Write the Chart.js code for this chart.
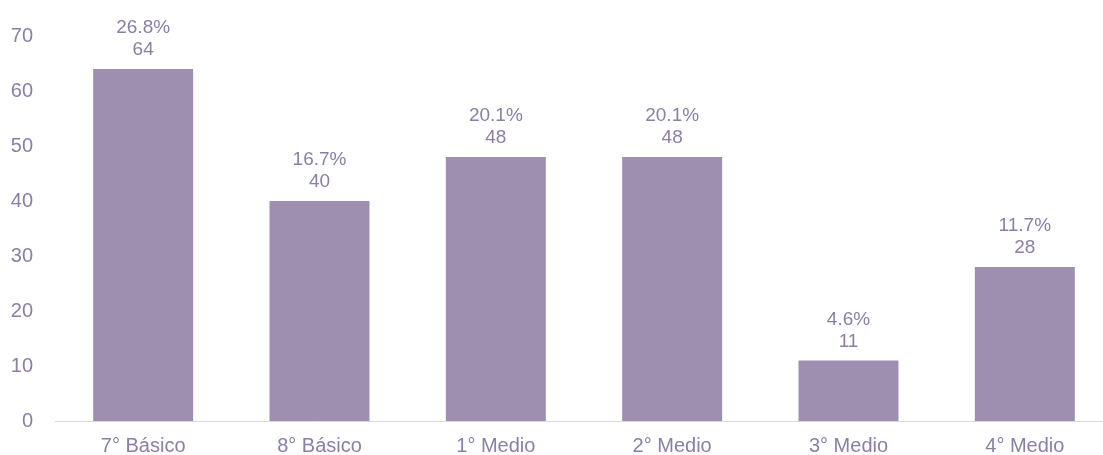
<!DOCTYPE html>
<html>
<head>
<meta charset="utf-8">
<script src="https://cdn.jsdelivr.net/npm/chart.js@4.4.1/dist/chart.umd.min.js"></script>
<style>
  html, body { margin: 0; padding: 0; background: #fff; overflow: hidden; }
  #wrap { width: 1113px; height: 455px; }
</style>
</head>
<body>
<div id="wrap"><canvas id="grafico"></canvas></div>
<script>
// Datos del gráfico
const cursos = ['7° Básico', '8° Básico', '1° Medio', '2° Medio', '3° Medio', '4° Medio'];
const cantidades = [64, 40, 48, 48, 11, 28];
const porcentajes = ['26.8%', '16.7%', '20.1%', '20.1%', '4.6%', '11.7%'];
const ticksY = [0, 10, 20, 30, 40, 50, 60, 70];

const colorBarra = '#9e8fb0';
const colorTexto = '#8c7ea6';

// Etiquetas de porcentaje y cantidad sobre cada barra
const etiquetasPlugin = {
    id: 'etiquetas',
    afterDatasetsDraw(chart) {
        const ctx = chart.ctx;
        const meta = chart.getDatasetMeta(0);
        ctx.save();
        ctx.fillStyle = colorTexto;
        ctx.font = '19px "Liberation Sans", Arial, sans-serif';
        ctx.textAlign = 'center';
        ctx.textBaseline = 'middle';
        meta.data.forEach((bar, i) => {
            ctx.fillText(porcentajes[i], bar.x, bar.y - 41);
            ctx.fillText(String(cantidades[i]), bar.x, bar.y - 19);
        });
        ctx.restore();
    }
};

const ctx = document.getElementById('grafico').getContext('2d');

new Chart(ctx, {
    type: 'bar',
    data: {
        labels: cursos,
        datasets: [{
            data: cantidades,
            backgroundColor: colorBarra,
            borderWidth: 0,
            barPercentage: 0.567,
            categoryPercentage: 1
        }]
    },
    options: {
        responsive: true,
        maintainAspectRatio: false,
        animation: false,
        layout: { padding: { top: 36, left: 0, right: 0, bottom: 0 } },
        plugins: {
            legend: { display: false },
            tooltip: { enabled: false }
        },
        scales: {
            x: {
                grid: { display: false },
                border: { display: true, color: '#dcd7e3', width: 1 },
                ticks: {
                    color: colorTexto,
                    font: { family: '"Liberation Sans", Arial, sans-serif', size: 20 },
                    padding: 5
                },
                afterFit(scale) { scale.height = 34; }
            },
            y: {
                min: 0,
                max: 70,
                afterBuildTicks(scale) { scale.ticks = ticksY.map(v => ({ value: v })); },
                grid: { display: false },
                border: { display: false },
                ticks: {
                    color: colorTexto,
                    font: { family: '"Liberation Sans", Arial, sans-serif', size: 20 },
                    padding: 14
                },
                afterFit(scale) { scale.width = 55; }
            }
        }
    },
    plugins: [etiquetasPlugin]
});
</script>
</body>
</html>
